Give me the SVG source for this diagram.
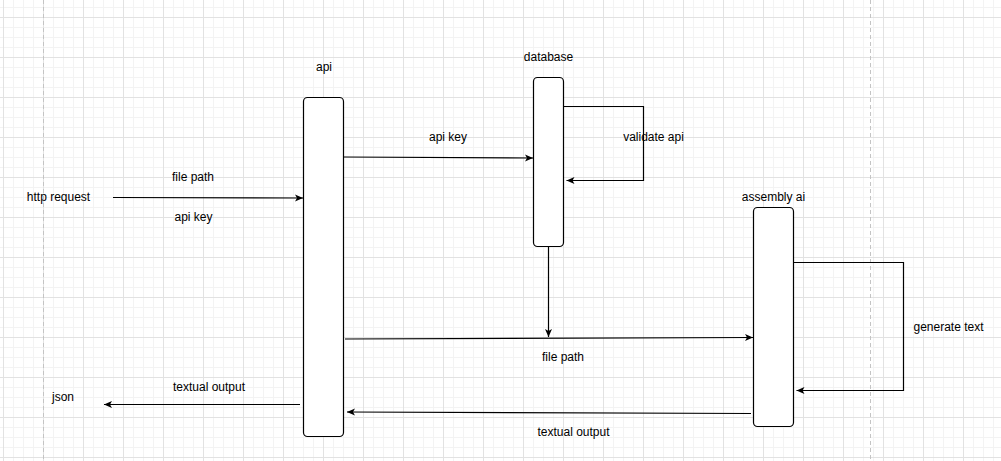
<svg xmlns="http://www.w3.org/2000/svg" width="1001" height="461" viewBox="0 0 1001 461">
<style>
.lbl{font-family:"Liberation Sans",Arial,sans-serif;font-size:12px;fill:#000;text-anchor:middle}
.box{fill:#fff;stroke:#000;stroke-width:1.2}
.con{fill:none;stroke:#000;stroke-width:1.2;marker-end:url(#arr)}
.minor{fill:none;stroke:#f3f3f3;stroke-width:1}
.major{fill:none;stroke:#e2e2e2;stroke-width:1}
.brk{stroke:#c4c4c4;stroke-width:1;stroke-dasharray:4 3}
</style>
<defs>
<pattern id="gmin" patternUnits="userSpaceOnUse" x="3" y="7" width="10" height="10">
<path class="minor" d="M0,0.5H10M0.5,0V10"/>
</pattern>
<pattern id="gmaj" patternUnits="userSpaceOnUse" x="3" y="17" width="40" height="40">
<path class="major" d="M0,0.5H40M0.5,0V40"/>
</pattern>
<marker id="arr" markerUnits="userSpaceOnUse" markerWidth="10" markerHeight="10" refX="8" refY="3.5" orient="auto">
<path d="M0,0L8,3.5L0,7L2,3.5z" fill="#000"/>
</marker>
</defs>
<g id="grid">
<rect width="1001" height="461" fill="#fff"/>
<rect width="1001" height="461" fill="url(#gmin)"/>
<rect width="1001" height="461" fill="url(#gmaj)"/>
<line class="brk" x1="43.5" y1="0" x2="43.5" y2="461"/>
<line class="brk" x1="870.5" y1="0" x2="870.5" y2="461"/>
</g>
<g id="connectors">
<path class="con" d="M113,197.5L303,198"/>
<path class="con" d="M343,157L533,158"/>
<path class="con" d="M563,106.5H643.5V180.5H566.5"/>
<path class="con" d="M548.5,247V337"/>
<path class="con" d="M345,339L753,337.5"/>
<path class="con" d="M793,262.5H903.5V390.5H796.5"/>
<path class="con" d="M751,413.5L347,412"/>
<path class="con" d="M300,404.5H104"/>
</g>
<g id="node-api">
<rect class="box" x="303.5" y="97.5" width="40" height="339" rx="4"/>
<text class="lbl" x="324" y="71">api</text>
</g>
<g id="node-database">
<rect class="box" x="533.5" y="77.5" width="30" height="169" rx="4"/>
<text class="lbl" x="548.5" y="61">database</text>
</g>
<g id="node-assembly">
<rect class="box" x="753.5" y="207.5" width="40" height="219" rx="4"/>
<text class="lbl" x="773.5" y="201">assembly ai</text>
</g>
<g id="labels">
<text class="lbl" x="58.5" y="201">http request</text>
<text class="lbl" x="193" y="181">file path</text>
<text class="lbl" x="193.5" y="221">api key</text>
<text class="lbl" x="448" y="141">api key</text>
<text class="lbl" x="653.5" y="141">validate api</text>
<text class="lbl" x="563" y="361">file path</text>
<text class="lbl" x="948.5" y="331">generate text</text>
<text class="lbl" x="573.5" y="436">textual output</text>
<text class="lbl" x="209" y="391">textual output</text>
<text class="lbl" x="63" y="401">json</text>
</g>
</svg>
